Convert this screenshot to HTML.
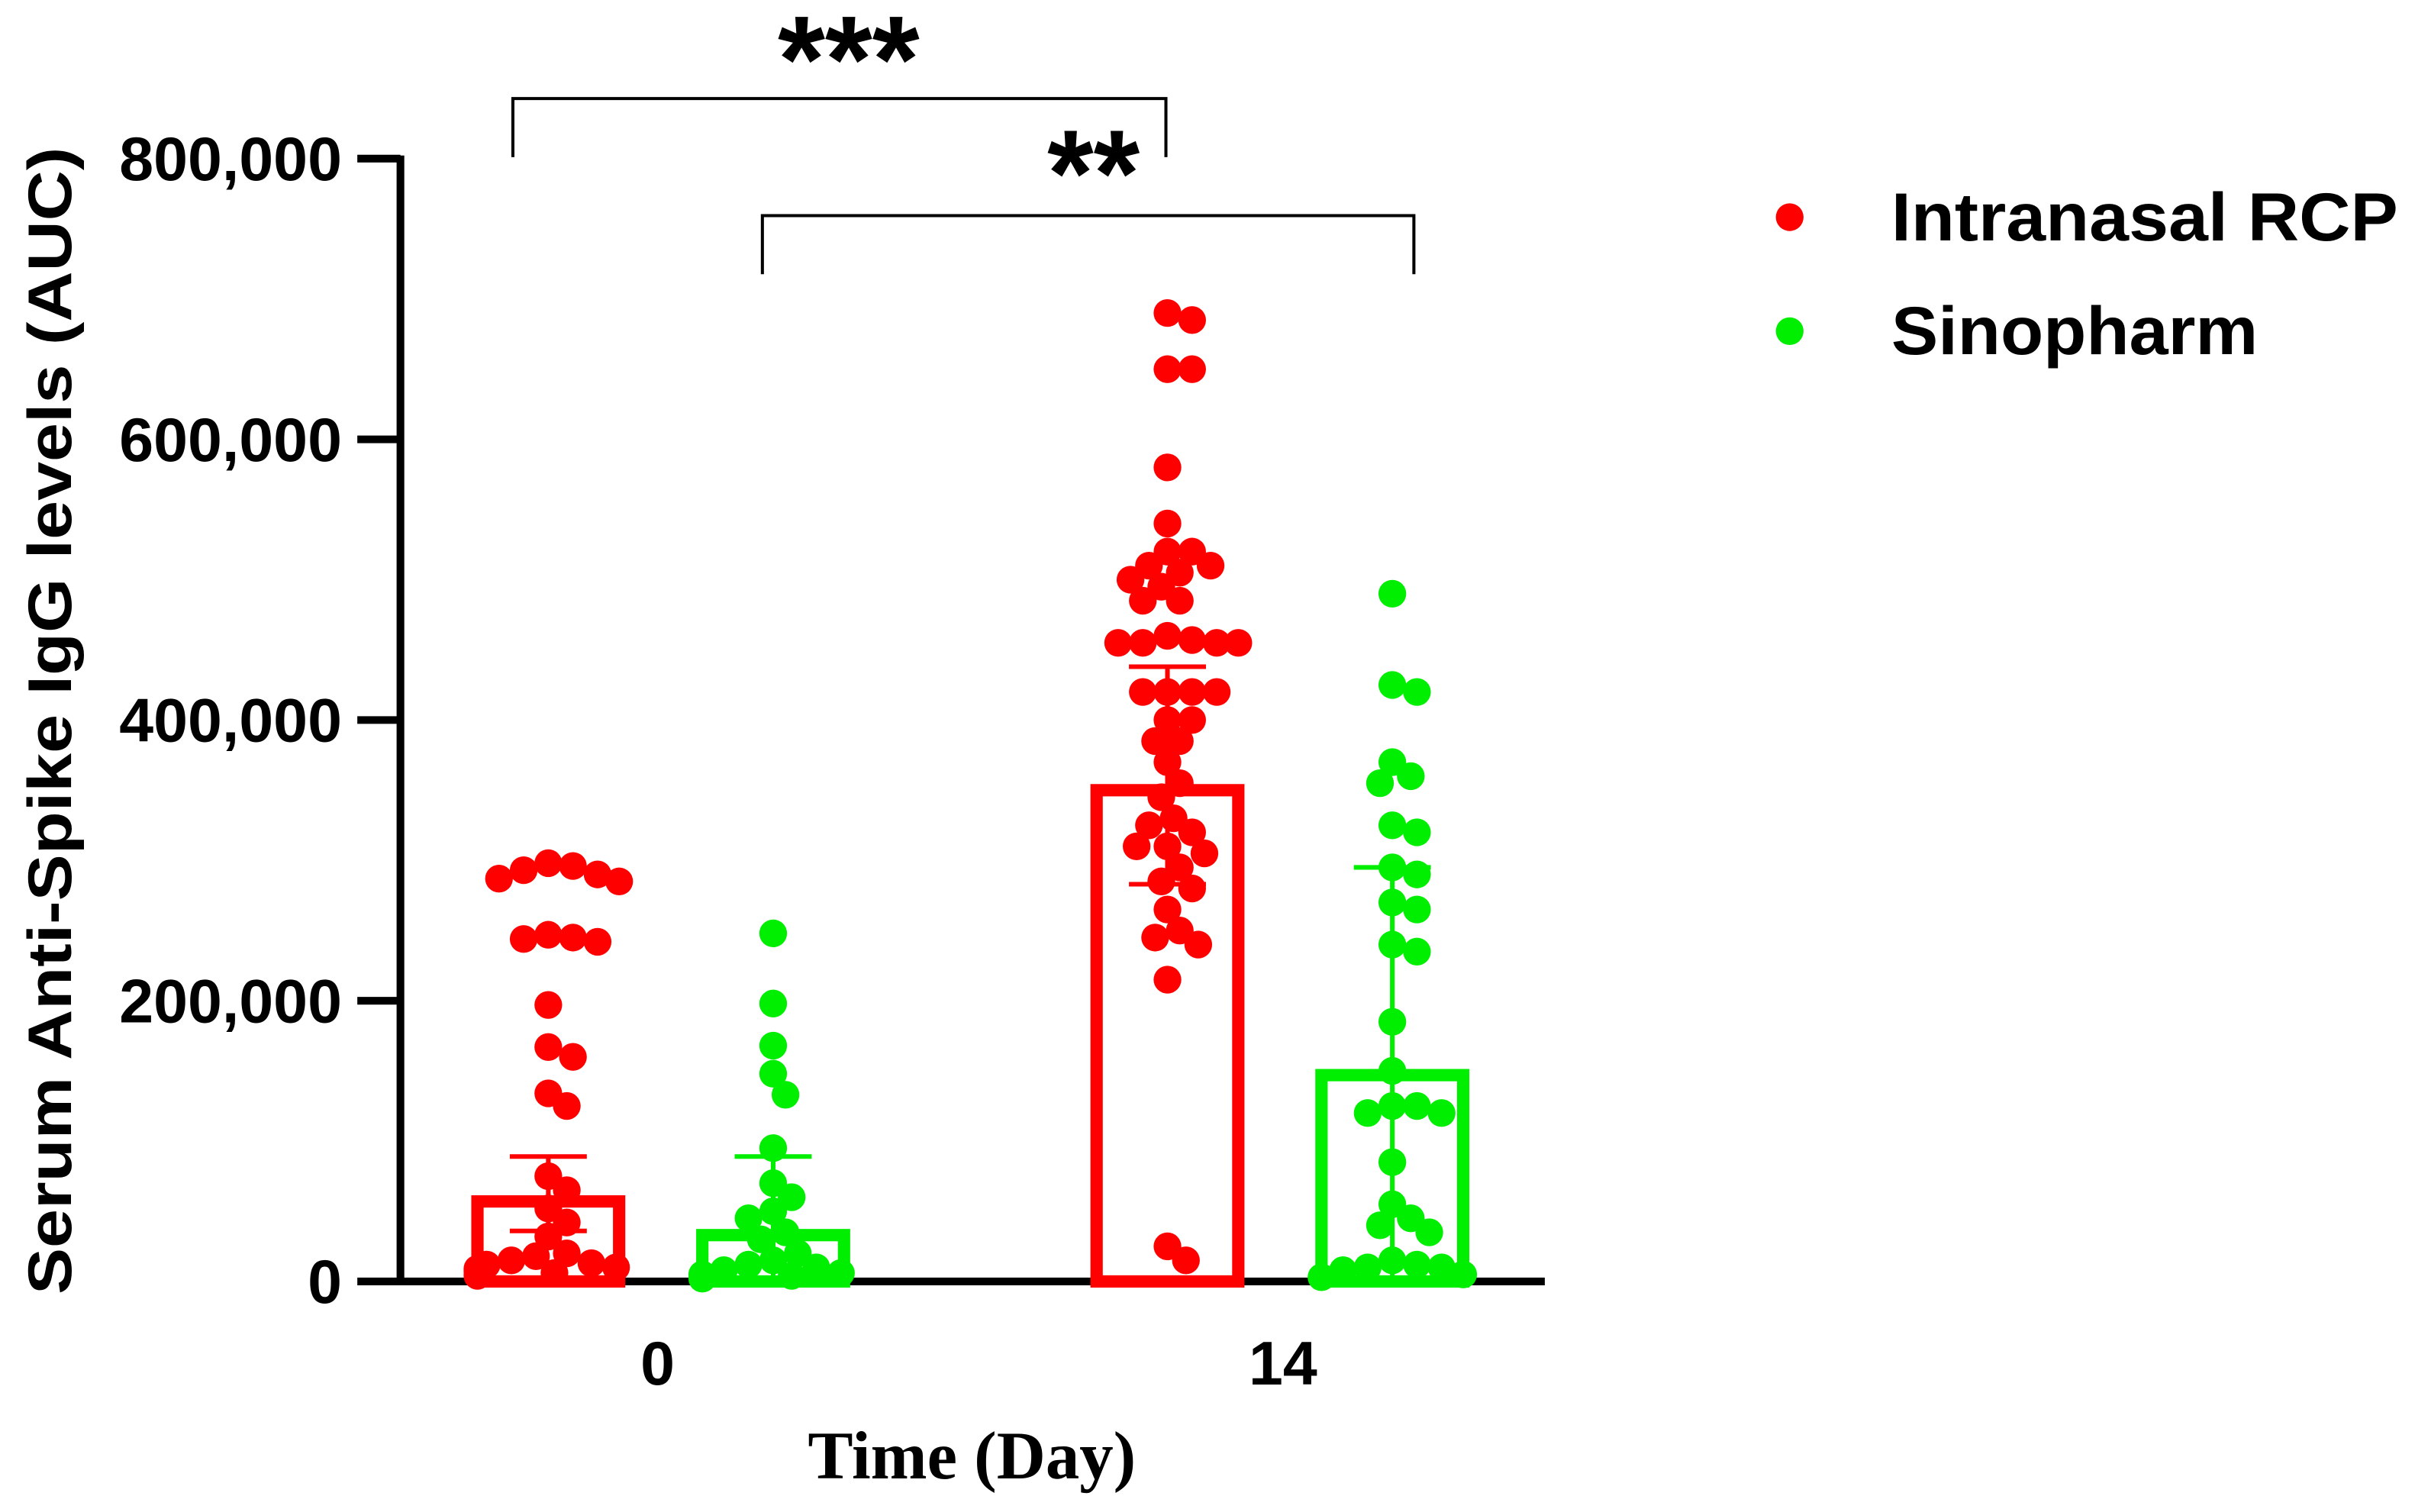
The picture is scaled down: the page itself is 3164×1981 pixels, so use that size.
<!DOCTYPE html>
<html><head><meta charset="utf-8"><style>
html,body{margin:0;padding:0;background:#fff;}
svg{display:block;}
text{font-family:"Liberation Sans",Arial,sans-serif;font-weight:bold;}
</style></head><body>
<svg id="chart" width="3164" height="1981" viewBox="0 0 1568 981.7" preserveAspectRatio="none" xmlns="http://www.w3.org/2000/svg">
<g id="axes"></g>
<g id="marks"></g>
<text transform="translate(46,468) rotate(-90)" text-anchor="middle" font-size="40" textLength="745" lengthAdjust="spacingAndGlyphs">Serum Anti-Spike IgG levels (AUC)</text>
<text x="631" y="960" text-anchor="middle" font-size="44" style="font-family:'Liberation Serif',serif;font-weight:bold">Time (Day)</text>
<g>
<circle cx="1162" cy="141" r="9" fill="#ff0000"/>
<text x="1228" y="156" font-size="44" textLength="329" lengthAdjust="spacingAndGlyphs">Intranasal RCP</text>
<circle cx="1162" cy="215" r="9" fill="#00ee00"/>
<text x="1228" y="230" font-size="44" textLength="238" lengthAdjust="spacingAndGlyphs">Sinopharm</text>
</g>
<g fill="none" stroke="#000" stroke-width="2">
<path d="M333 102 V64 H757 V102"/>
<path d="M495 178 V140 H918 V178"/>
</g>
<text x="551" y="66" text-anchor="middle" font-size="80" textLength="92" lengthAdjust="spacingAndGlyphs">***</text>
<text x="710" y="140" text-anchor="middle" font-size="80" textLength="60" lengthAdjust="spacingAndGlyphs">**</text>
</svg>
<script>
const yTicks=[0,200000,400000,600000,800000];
const yTickLabels=["0","200,000","400,000","600,000","800,000"];
const categories=["0","14"];
const groupNames=["Intranasal RCP Day 0","Sinopharm Day 0","Intranasal RCP Day 14","Sinopharm Day 14"];
const means=[57000,33000,350000,147000];
const errUpper=[89000,89000,438000,295000];
const errLower=[36000,0,283000,0];
const redDay0=[298000,296000,293000,290000,287000,285000,247000,245000,244000,242000,197000,167000,160000,134000,125000,75000,65000,52000,42000,32000,20000,18000,15000,13000,12000,10000,9000,8000,7000,6000,5000,4000];
const greenDay0=[248000,198000,168000,148000,133000,95000,70000,60000,50000,45000,35000,30000,20000,15000,12000,10000,8000,6000,5000,5000,4000,3000,3000,2000];
const redDay14=[690000,685000,650000,650000,580000,540000,520000,520000,510000,510000,505000,500000,495000,485000,485000,460000,457000,455000,455000,455000,455000,420000,420000,420000,420000,400000,400000,385000,385000,370000,355000,345000,330000,325000,320000,310000,310000,305000,295000,285000,280000,265000,250000,245000,240000,215000,25000,15000];
const greenDay14=[490000,425000,420000,370000,360000,355000,325000,320000,295000,290000,270000,265000,240000,235000,185000,150000,125000,125000,120000,120000,85000,55000,45000,40000,35000,15000,12000,10000,10000,8000,5000,3000];
const series=[redDay0,greenDay0,redDay14,greenDay14];
const colors=["#ff0000","#00ee00","#ff0000","#00ee00"];

const X0=260,X1=1003,Y0=832,Y800=103;
function y(v){return Y0-(v/800000)*(Y0-Y800);}
const catX=[427,829];
const labelShift=[0,4];
function gx(i){return catX[Math.floor(i/2)]+(i%2===0?-71:75);}
const NS="http://www.w3.org/2000/svg";
function mk(tag,attrs,parent){const e=document.createElementNS(NS,tag);for(const k in attrs)e.setAttribute(k,attrs[k]);parent.appendChild(e);return e;}
const axes=document.getElementById('axes'),marks=document.getElementById('marks');

series.forEach((s,i)=>{
  const cx=gx(i),w=92;
  const b=mk('rect',{x:cx-w/2,y:y(means[i]),width:w,height:Math.max(0,Y0-y(means[i])),fill:'none',stroke:colors[i],'stroke-width':8},marks);
  
  
});
const R=9;
series.forEach((s,i)=>{
  const cx=gx(i);const placed=[];
  const sorted=s.slice().sort((a,b)=>b-a);
  sorted.forEach(v=>{
    const py=y(v);let off=0;
    const cands=[0];for(let k=1;k<14;k++){cands.push(k*4,-k*4);}
    for(const c of cands){
      off=c;
      if(placed.every(p=>Math.hypot(p[0]-c,p[1]-py)>=1.6*R))break;
    }
    off=Math.max(-46,Math.min(46,off));
    placed.push([off,py]);
    const d=mk('circle',{cx:cx+off,cy:py,r:R,fill:colors[i]},marks);
    
    
  });
});
series.forEach((s,i)=>{
  const cx=gx(i);
  const l=mk('line',{x1:cx,x2:cx,y1:y(errUpper[i]),y2:y(errLower[i]),stroke:colors[i],'stroke-width':3},marks);
  
  
  [errUpper[i],errLower[i]].forEach(v=>{if(v<=0)return;
    const c=mk('line',{x1:cx-25,x2:cx+25,y1:y(v),y2:y(v),stroke:colors[i],'stroke-width':3},marks);
    
    
  });
});
const ya=mk('line',{x1:X0,x2:X0,y1:Y800-2,y2:Y0+2,stroke:'#000','stroke-width':5},axes);


const xa=mk('line',{x1:X0-2,x2:X1,y1:Y0,y2:Y0,stroke:'#000','stroke-width':5},axes);


yTicks.forEach((v,i)=>{
  const t=mk('line',{x1:232,x2:X0,y1:y(v),y2:y(v),stroke:'#000','stroke-width':5},axes);
  
  
  const tl=mk('text',{x:222,y:y(v)+14,'text-anchor':'end','font-size':40},axes);
  tl.textContent=yTickLabels[i];
  
  
});
categories.forEach((c,i)=>{
  const t=mk('text',{x:catX[i]+labelShift[i],y:899,'text-anchor':'middle','font-size':40},axes);
  t.textContent=c;
  
  
});
</script>
</body></html>
